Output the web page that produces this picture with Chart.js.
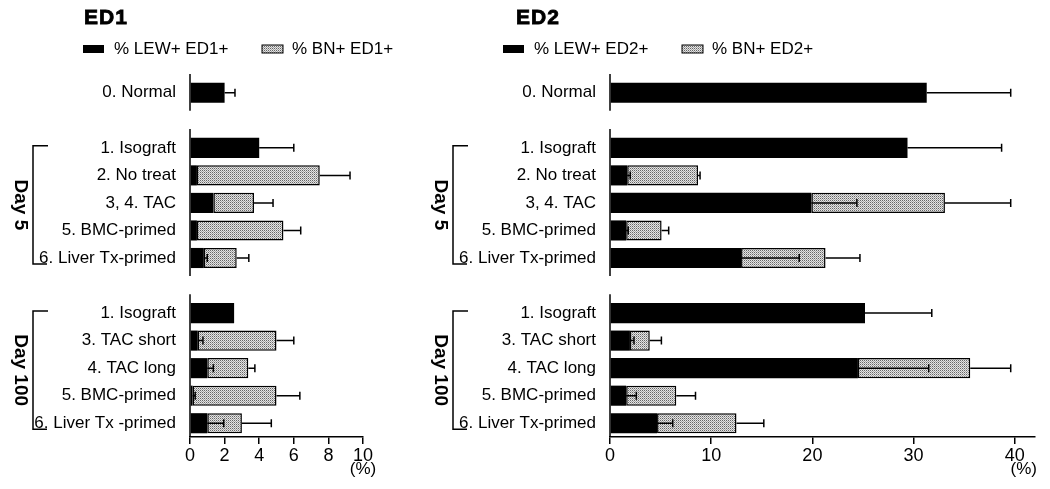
<!DOCTYPE html>
<html>
<head>
<meta charset="utf-8">
<script src="https://cdn.jsdelivr.net/npm/chart.js@4.4.1/dist/chart.umd.min.js"></script>
<style>
  html, body { margin: 0; padding: 0; background: #fff; }
  #wrap { position: relative; width: 1050px; height: 489px; }
  .panel { position: absolute; top: 0; height: 489px; }
  #ed1-wrap { left: 0; width: 430px; }
  #ed2-wrap { left: 430px; width: 620px; }
</style>
</head>
<body>
<div id="wrap">
  <div class="panel" id="ed1-wrap"><canvas id="ed1-chart"></canvas></div>
  <div class="panel" id="ed2-wrap"><canvas id="ed2-chart"></canvas></div>
</div>
<script>
// Rows (blank entries are the gaps between Normal / Day 5 / Day 100 groups)
const ed1Categories = ['0. Normal', '', '1. Isograft', '2. No treat', '3, 4. TAC', '5. BMC-primed', '6. Liver Tx-primed',
                       '', '1. Isograft', '3. TAC short', '4. TAC long', '5. BMC-primed', '6. Liver Tx -primed'];
const ed2Categories = ['0. Normal', '', '1. Isograft', '2. No treat', '3, 4. TAC', '5. BMC-primed', '6. Liver Tx-primed',
                       '', '1. Isograft', '3. TAC short', '4. TAC long', '5. BMC-primed', '6. Liver Tx-primed'];

const groups = [
    { label: null, from: 0, to: 0 },
    { label: 'Day 5', from: 2, to: 6 },
    { label: 'Day 100', from: 8, to: 12 },
];

const ed1Ticks = [0, 2, 4, 6, 8, 10];
const ed2Ticks = [0, 10, 20, 30, 40];

// ED1 (%)
const ed1Lew    = [2.0, null, 4.0, 0.4, 1.35, 0.4, 0.8, null, 2.55, 0.45, 1.0, 0.15, 1.0];
const ed1LewErr = [0.6, null, 2.0, 0, 0, 0, 0.2, null, 0, 0.3, 0.35, 0.15, 0.95];
const ed1Bn     = [null, null, null, 7.1, 2.35, 5.0, 1.9, null, null, 4.55, 2.37, 4.85, 2.0];
const ed1BnErr  = [0, null, 0, 1.75, 1.1, 1.0, 0.7, null, 0, 1.0, 0.38, 1.35, 1.7];

// ED2 (%)
const ed2Lew    = [31.3, null, 29.4, 1.7, 19.9, 1.6, 12.95, null, 25.2, 1.97, 24.5, 1.6, 4.65];
const ed2LewErr = [8.3, null, 9.3, 0.3, 4.5, 0.2, 5.75, null, 6.6, 0.4, 7.0, 1.0, 1.55];
const ed2Bn     = [null, null, null, 7.0, 13.2, 3.5, 8.35, null, null, 1.96, 11.1, 4.95, 7.85];
const ed2BnErr  = [0, null, 0, 0.2, 6.5, 0.7, 3.4, null, 0, 1.15, 4.0, 1.9, 2.7];

const FONT = "'Liberation Sans', Arial, Helvetica, sans-serif";
Chart.defaults.font.family = FONT;
Chart.defaults.color = '#000';

function makeStipple() {
    const c = document.createElement('canvas');
    c.width = 2; c.height = 2;
    const g = c.getContext('2d');
    g.fillStyle = '#e4e4e4'; g.fillRect(0, 0, 2, 2);
    g.fillStyle = '#666'; g.fillRect(0, 0, 1, 1);
    g.fillStyle = '#a6a6a6'; g.fillRect(1, 1, 1, 1);
    return g.createPattern(c, 'repeat');
}
const stipple = makeStipple();

// error bars, broken y axis, Day brackets, title, legend, unit label
const panelDecor = {
    id: 'panelDecor',
    afterDatasetsDraw(chart, args, opts) {
        const { ctx, chartArea } = chart;
        const xs = chart.scales.x, ys = chart.scales.y;
        const rowH = ys.getPixelForValue(1) - ys.getPixelForValue(0);
        const lew = chart.data.datasets[0].data;
        const bn = chart.data.datasets[1].data;
        ctx.save();
        ctx.strokeStyle = '#000';
        ctx.fillStyle = '#000';
        ctx.lineWidth = 1.5;

        // error bars
        [opts.lewErr, opts.bnErr].forEach((errs, d) => {
            errs.forEach((e, i) => {
                if (!e) return;
                const base = d === 0 ? lew[i] : lew[i] + bn[i];
                const x0 = xs.getPixelForValue(base);
                const x1 = xs.getPixelForValue(base + e);
                const yc = ys.getPixelForValue(i);
                ctx.beginPath();
                ctx.moveTo(x0, yc); ctx.lineTo(x1, yc);
                ctx.moveTo(x1, yc - 4); ctx.lineTo(x1, yc + 4);
                ctx.stroke();
            });
        });

        // y axis, one segment per group
        groups.forEach((g, k) => {
            const y1 = ys.getPixelForValue(g.from) - 0.68 * rowH;
            const y2 = k === groups.length - 1 ? chartArea.bottom : ys.getPixelForValue(g.to) + 0.65 * rowH;
            ctx.beginPath();
            ctx.moveTo(chartArea.left, y1); ctx.lineTo(chartArea.left, y2);
            ctx.stroke();

            if (!g.label) return;
            const bx = chartArea.left - 157;
            const top = ys.getPixelForValue(g.from) - 2;
            const bot = ys.getPixelForValue(g.to) + 6;
            ctx.beginPath();
            ctx.moveTo(bx + 15, top); ctx.lineTo(bx, top);
            ctx.lineTo(bx, bot); ctx.lineTo(bx + 14, bot);
            ctx.stroke();

            ctx.save();
            ctx.translate(chartArea.left - 170, (top + bot) / 2);
            ctx.rotate(Math.PI / 2);
            ctx.font = 'bold 19px ' + FONT;
            ctx.textAlign = 'center';
            ctx.textBaseline = 'middle';
            ctx.fillText(g.label, 0, 0);
            ctx.restore();
        });

        // panel title
        ctx.font = 'bold 21px ' + FONT;
        ctx.letterSpacing = '1px';
        ctx.textAlign = 'left';
        ctx.textBaseline = 'middle';
        ctx.lineWidth = 0.8;
        ctx.fillText(opts.title, opts.titleX, 18);
        ctx.strokeText(opts.title, opts.titleX, 18);
        ctx.letterSpacing = '0px';

        // legend
        const L = chartArea.left;
        ctx.font = '17px ' + FONT;
        ctx.fillRect(L - 107, 45, 21, 8);
        ctx.fillText(opts.lewLabel, L - 76, 49);
        ctx.fillStyle = stipple;
        ctx.fillRect(L + 72, 45, 21, 8);
        ctx.lineWidth = 1;
        ctx.strokeRect(L + 72, 45, 21, 8);
        ctx.fillStyle = '#000';
        ctx.fillText(opts.bnLabel, L + 102, 49);

        // unit under last tick
        ctx.font = '17px ' + FONT;
        ctx.textAlign = 'center';
        ctx.fillText('(%)', xs.getPixelForValue(opts.unitAt) + opts.unitDx, 469);
        ctx.restore();
    }
};

function buildPanel(id, cfg) {
    return new Chart(document.getElementById(id), {
        type: 'bar',
        data: {
            labels: cfg.categories,
            datasets: [
                {
                    label: cfg.lewLabel,
                    data: cfg.lew,
                    backgroundColor: '#000',
                    borderColor: '#000',
                    borderWidth: 0,
                },
                {
                    label: cfg.bnLabel,
                    data: cfg.bn,
                    backgroundColor: stipple,
                    borderColor: '#000',
                    borderWidth: 1.5,
                    borderSkipped: false,
                },
            ],
        },
        options: {
            indexAxis: 'y',
            responsive: true,
            maintainAspectRatio: false,
            animation: false,
            datasets: { bar: { categoryPercentage: 1, barPercentage: 0.73 } },
            layout: { padding: { left: 0, top: 79, right: cfg.padRight, bottom: 0 } },
            plugins: {
                legend: { display: false },
                title: { display: false },
                tooltip: { enabled: false },
                panelDecor: {
                    title: cfg.title, titleX: cfg.titleX,
                    lewLabel: cfg.lewLabel, bnLabel: cfg.bnLabel,
                    lewErr: cfg.lewErr, bnErr: cfg.bnErr,
                    unitAt: cfg.ticks[cfg.ticks.length - 1], unitDx: cfg.unitDx,
                },
            },
            scales: {
                x: {
                    stacked: true,
                    min: 0,
                    max: cfg.max,
                    afterBuildTicks: axis => { axis.ticks = cfg.ticks.map(v => ({ value: v })); },
                    afterFit: axis => { axis.height = 52; },
                    ticks: { color: '#000', font: { size: 18 }, padding: 1, maxRotation: 0 },
                    grid: { drawOnChartArea: false, drawTicks: true, tickLength: 7, color: '#000', lineWidth: 1.5 },
                    border: { color: '#000', width: 1.5 },
                },
                y: {
                    stacked: true,
                    afterFit: axis => { axis.width = cfg.axisLeft; },
                    ticks: { color: '#000', font: { size: 17 }, padding: 6, autoSkip: false },
                    grid: { display: false },
                    border: { display: false },
                },
            },
        },
        plugins: [panelDecor],
    });
}

buildPanel('ed1-chart', {
    categories: ed1Categories,
    lew: ed1Lew, lewErr: ed1LewErr, bn: ed1Bn, bnErr: ed1BnErr,
    lewLabel: '% LEW+ ED1+', bnLabel: '% BN+ ED1+',
    title: 'ED1', titleX: 84, ticks: ed1Ticks,
    max: 10, axisLeft: 190, padRight: 67, unitDx: 0,
});

buildPanel('ed2-chart', {
    categories: ed2Categories,
    lew: ed2Lew, lewErr: ed2LewErr, bn: ed2Bn, bnErr: ed2BnErr,
    lewLabel: '% LEW+ ED2+', bnLabel: '% BN+ ED2+',
    title: 'ED2', titleX: 86, ticks: ed2Ticks,
    max: 42, axisLeft: 180, padRight: 15, unitDx: 9,
});
</script>
</body>
</html>
